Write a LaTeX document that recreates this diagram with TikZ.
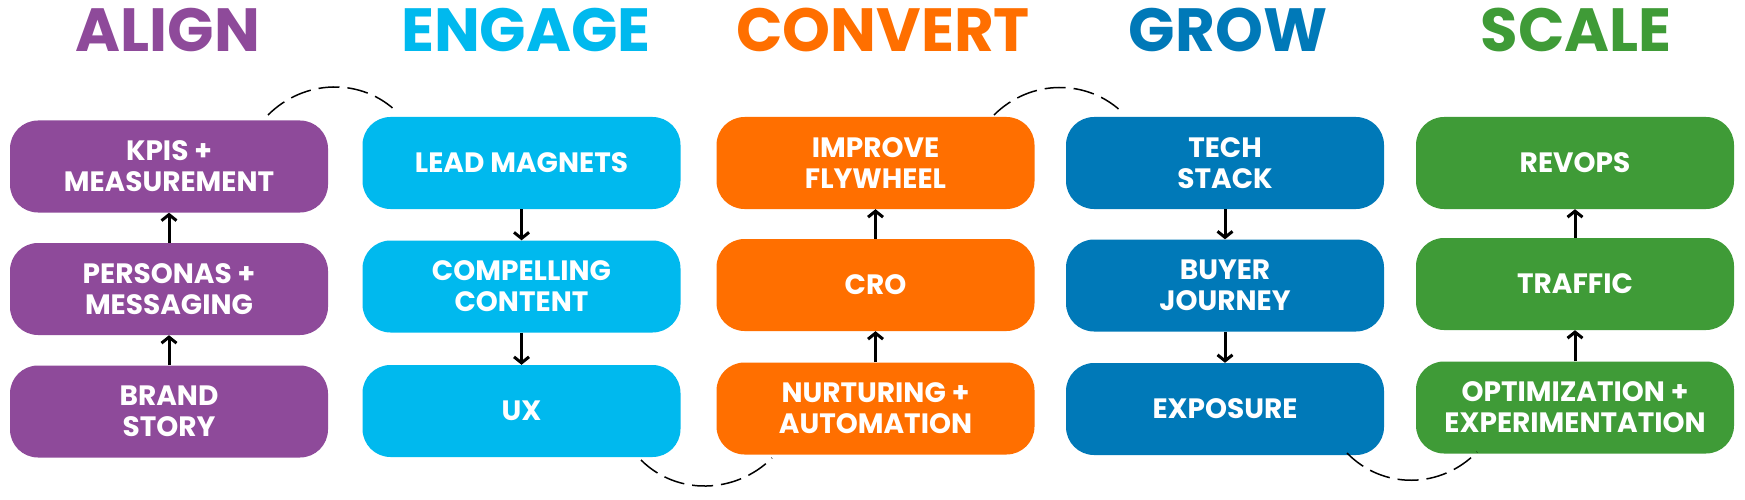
\documentclass[tikz,border=0pt]{standalone}
\usepackage{fontspec}
\setmainfont{Poppins}
\usetikzlibrary{arrows.meta}
\definecolor{calign}{HTML}{8E4A9A}
\definecolor{cengage}{HTML}{00B9EE}
\definecolor{cconvert}{HTML}{FF6F00}
\definecolor{cgrow}{HTML}{0079B8}
\definecolor{cscale}{HTML}{3F9B37}
\begin{document}
\begin{tikzpicture}[x=1pt,y=-1pt,
  box/.style={fill=#1, rounded corners=28pt, minimum width=318pt, minimum height=92pt,
    text=white, align=center, inner sep=0pt,
    font=\fontsize{28}{31}\selectfont\bfseries},
  ttl/.style={text=#1, anchor=base, inner sep=0pt,
    font=\fontsize{61}{63}\selectfont\bfseries},
  flow/.style={line width=3pt, -{Straight Barb[length=6pt,width=15pt]}},
  loopline/.style={line width=1.5pt, dash pattern=on 21pt off 8pt}]
\fill[white] (0,0) rectangle (1745,500);
\useasboundingbox (0,0) rectangle (1745,500);

% titles
\node[ttl=calign]   (tA) at (168,52)  {ALIGN};
\node[ttl=cengage]  (tE) at (526,52)  {ENGAGE};
\node[ttl=cconvert] (tC) at (883,52)  {CONVERT};
\node[ttl=cgrow]    (tG) at (1228,52) {GROW};
\node[ttl=cscale]   (tS) at (1576,52) {SCALE};

% ALIGN
\node[box=calign] (a1) at (169,166.5) {KPIS +\\MEASUREMENT};
\node[box=calign] (a2) at (169,289)   {PERSONAS +\\MESSAGING};
\node[box=calign] (a3) at (169,411.5) {BRAND\\STORY};
% ENGAGE
\node[box=cengage] (e1) at (521.5,163)   {LEAD MAGNETS};
\node[box=cengage] (e2) at (521.5,286.5) {COMPELLING\\CONTENT};
\node[box=cengage] (e3) at (521.5,411)   {UX};
% CONVERT
\node[box=cconvert] (c1) at (875.5,163)   {IMPROVE\\FLYWHEEL};
\node[box=cconvert] (c2) at (875.5,285)   {CRO};
\node[box=cconvert] (c3) at (875.5,408.5) {NURTURING +\\AUTOMATION};
% GROW
\node[box=cgrow] (g1) at (1225,163)   {TECH\\STACK};
\node[box=cgrow] (g2) at (1225,285.5) {BUYER\\JOURNEY};
\node[box=cgrow] (g3) at (1225,409)   {EXPOSURE};
% SCALE
\node[box=cscale] (s1) at (1575,163)   {REVOPS};
\node[box=cscale] (s2) at (1575,284)   {TRAFFIC};
\node[box=cscale] (s3) at (1575,407.5) {OPTIMIZATION +\\EXPERIMENTATION};

% arrows
\draw[flow] (a3.north) -- (a2.south);
\draw[flow] (a2.north) -- (a1.south);
\draw[flow] (e1.south) -- (e2.north);
\draw[flow] (e2.south) -- (e3.north);
\draw[flow] (c3.north) -- (c2.south);
\draw[flow] (c2.north) -- (c1.south);
\draw[flow] (g1.south) -- (g2.north);
\draw[flow] (g2.south) -- (g3.north);
\draw[flow] (s3.north) -- (s2.south);
\draw[flow] (s2.north) -- (s1.south);

% dashed loops
\coordinate (l1a) at (268,115);  \coordinate (l1b) at (398,113);
\coordinate (l1c) at (304,79);   \coordinate (l1d) at (362,77);
\draw[loopline] (l1a) .. controls (l1c) and (l1d) .. (l1b);

\coordinate (l2a) at (641,460);  \coordinate (l2b) at (772,458);
\coordinate (l2c) at (677,496);  \coordinate (l2d) at (736,494);
\draw[loopline] (l2a) .. controls (l2c) and (l2d) .. (l2b);

\coordinate (l3a) at (994,115);  \coordinate (l3b) at (1124,114);
\coordinate (l3c) at (1030,79);  \coordinate (l3d) at (1088,78);
\draw[loopline] (l3a) .. controls (l3c) and (l3d) .. (l3b);

\coordinate (l4a) at (1347,453); \coordinate (l4b) at (1477,452);
\coordinate (l4c) at (1383,490); \coordinate (l4d) at (1441,489);
\draw[loopline] (l4a) .. controls (l4c) and (l4d) .. (l4b);
\end{tikzpicture}
\end{document}
